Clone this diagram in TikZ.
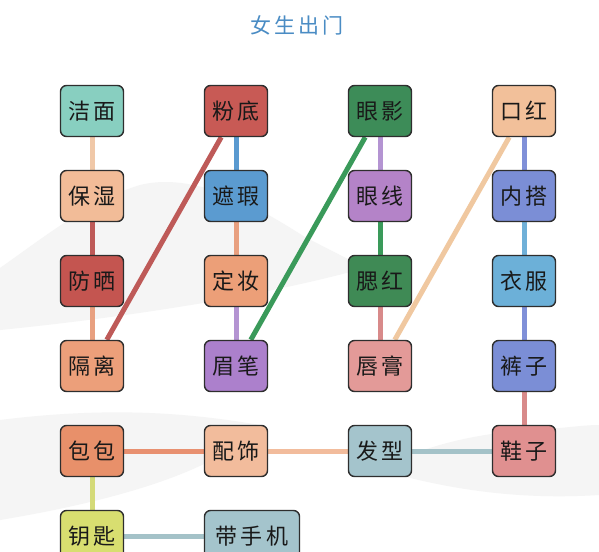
\documentclass[tikz,border=0pt]{standalone}
\usepackage{fontspec}
\newfontfamily\cjk{Noto Sans CJK SC}
\usetikzlibrary{backgrounds}
\definecolor{edgedark}{HTML}{2E2E2E}
\definecolor{ctitle}{HTML}{4A8CC4}
\definecolor{cjiemian}{HTML}{88CFC0}
\definecolor{cfendi}{HTML}{C85A55}
\definecolor{cyanying}{HTML}{3D8C58}
\definecolor{ckouhong}{HTML}{F2C09A}
\definecolor{cbaoshi}{HTML}{F2BC98}
\definecolor{czhexia}{HTML}{5B9BD0}
\definecolor{cyanxian}{HTML}{B483C8}
\definecolor{cneida}{HTML}{7B8ED6}
\definecolor{cfangshai}{HTML}{C45550}
\definecolor{cdingzhuang}{HTML}{EC9F78}
\definecolor{csaihong}{HTML}{3F8A55}
\definecolor{cyifu}{HTML}{6CB0D8}
\definecolor{cgeli}{HTML}{EC9F7A}
\definecolor{cmeibi}{HTML}{AC80CC}
\definecolor{cchungao}{HTML}{E39A98}
\definecolor{ckuzi}{HTML}{7B8ED6}
\definecolor{cbaobao}{HTML}{E8906A}
\definecolor{cpeishi}{HTML}{F2BC9C}
\definecolor{cfaxing}{HTML}{A4C4CC}
\definecolor{cxiezi}{HTML}{E09090}
\definecolor{cyaoshi}{HTML}{D8DE70}
\definecolor{cshouji}{HTML}{A4C4CC}
\definecolor{lpeach}{HTML}{F0C8A8}
\definecolor{lred}{HTML}{BE5A58}
\definecolor{lorange}{HTML}{E8A080}
\definecolor{lblue}{HTML}{5A9AD0}
\definecolor{lpurple}{HTML}{B494D2}
\definecolor{lgreen}{HTML}{3A9A5A}
\definecolor{lpink}{HTML}{D88A8A}
\definecolor{lbp}{HTML}{8090D8}
\definecolor{llblue}{HTML}{70B0D8}
\definecolor{lorange2}{HTML}{E89070}
\definecolor{lpeach2}{HTML}{F2BC9C}
\definecolor{lgrey}{HTML}{A4C2C8}
\definecolor{lyellow}{HTML}{D4DA78}
\definecolor{lapeach}{HTML}{F0C8A0}
\tikzset{
  itembox/.style={draw=edgedark, line width=1.4pt, rounded corners=6pt,
    minimum width=63pt, minimum height=51pt, inner sep=0pt,
    font=\cjk\fontsize{22}{22}\selectfont, text=black!90},
  conn/.style={line width=5pt},
  wash/.style={fill=black!4, draw=none}
}
\newcommand{\tw}[2]{#1\hspace{4pt}#2}
\begin{document}
\begin{tikzpicture}[x=1pt,y=-1pt]
\useasboundingbox (0,0) rectangle (599,551);
\clip (0,0) rectangle (599,551);
\node[font=\cjk\fontsize{21}{21}\selectfont, text=ctitle] (title) at (297,25) {女\hspace{3pt}生\hspace{3pt}出\hspace{3pt}门};
% row 1
\node[itembox, fill=cjiemian] (jiemian) at (92,111) {\tw{洁}{面}};
\node[itembox, fill=cfendi] (fendi) at (236,111) {\tw{粉}{底}};
\node[itembox, fill=cyanying] (yanying) at (380,111) {\tw{眼}{影}};
\node[itembox, fill=ckouhong] (kouhong) at (524,111) {\tw{口}{红}};
% row 2
\node[itembox, fill=cbaoshi] (baoshi) at (92,196) {\tw{保}{湿}};
\node[itembox, fill=czhexia] (zhexia) at (236,196) {\tw{遮}{瑕}};
\node[itembox, fill=cyanxian] (yanxian) at (380,196) {\tw{眼}{线}};
\node[itembox, fill=cneida] (neida) at (524,196) {\tw{内}{搭}};
% row 3
\node[itembox, fill=cfangshai] (fangshai) at (92,281) {\tw{防}{晒}};
\node[itembox, fill=cdingzhuang] (dingzhuang) at (236,281) {\tw{定}{妆}};
\node[itembox, fill=csaihong] (saihong) at (380,281) {\tw{腮}{红}};
\node[itembox, fill=cyifu] (yifu) at (524,281) {\tw{衣}{服}};
% row 4
\node[itembox, fill=cgeli] (geli) at (92,366) {\tw{隔}{离}};
\node[itembox, fill=cmeibi] (meibi) at (236,366) {\tw{眉}{笔}};
\node[itembox, fill=cchungao] (chungao) at (380,366) {\tw{唇}{膏}};
\node[itembox, fill=ckuzi] (kuzi) at (524,366) {\tw{裤}{子}};
% row 5
\node[itembox, fill=cbaobao] (baobao) at (92,451) {\tw{包}{包}};
\node[itembox, fill=cpeishi] (peishi) at (236,451) {\tw{配}{饰}};
\node[itembox, fill=cfaxing] (faxing) at (380,451) {\tw{发}{型}};
\node[itembox, fill=cxiezi] (xiezi) at (524,451) {\tw{鞋}{子}};
% row 6
\node[itembox, fill=cyaoshi] (yaoshi) at (92,536) {\tw{钥}{匙}};
\node[itembox, fill=cshouji, minimum width=95pt] (shouji) at (252,536) {带\hspace{4pt}手\hspace{4pt}机};
\begin{scope}[on background layer]
  \fill[white] (0,0) rectangle (599,551);
  % faint ink-wash mountains
  \fill[wash] (0,268) .. controls (40,240) and (90,200) .. (140,185)
     .. controls (200,170) and (270,215) .. (305,237)
     .. controls (330,250) and (350,260) .. (365,268)
     .. controls (250,300) and (100,320) .. (0,330) -- cycle;
  \fill[wash] (0,420) .. controls (120,405) and (200,415) .. (260,425)
     .. controls (220,470) and (120,500) .. (0,520) -- cycle;
  \fill[wash] (380,470) .. controls (430,440) and (500,430) .. (560,428)
     .. controls (580,426) and (590,425) .. (599,425)
     -- (599,495) .. controls (520,500) and (450,490) .. (380,470) -- cycle;
  % connectors
  \draw[conn, lpeach] (jiemian) -- (baoshi);
  \draw[conn, lred] (baoshi) -- (fangshai);
  \draw[conn, lorange] (fangshai) -- (geli);
  \draw[conn, lred] (fendi) -- (geli);
  \draw[conn, lblue] (fendi) -- (zhexia);
  \draw[conn, lorange] (zhexia) -- (dingzhuang);
  \draw[conn, lpurple] (dingzhuang) -- (meibi);
  \draw[conn, lgreen] (yanying) -- (meibi);
  \draw[conn, lpurple] (yanying) -- (yanxian);
  \draw[conn, lgreen] (yanxian) -- (saihong);
  \draw[conn, lpink] (saihong) -- (chungao);
  \draw[conn, lapeach] (kouhong) -- (chungao);
  \draw[conn, lbp] (kouhong) -- (neida);
  \draw[conn, llblue] (neida) -- (yifu);
  \draw[conn, lbp] (yifu) -- (kuzi);
  \draw[conn, lpink] (kuzi) -- (xiezi);
  \draw[conn, lorange2] (baobao) -- (peishi);
  \draw[conn, lpeach2] (peishi) -- (faxing);
  \draw[conn, lgrey] (faxing) -- (xiezi);
  \draw[conn, lyellow] (baobao) -- (yaoshi);
  \draw[conn, lgrey] (yaoshi) -- (shouji);
\end{scope}
\end{tikzpicture}
\end{document}
